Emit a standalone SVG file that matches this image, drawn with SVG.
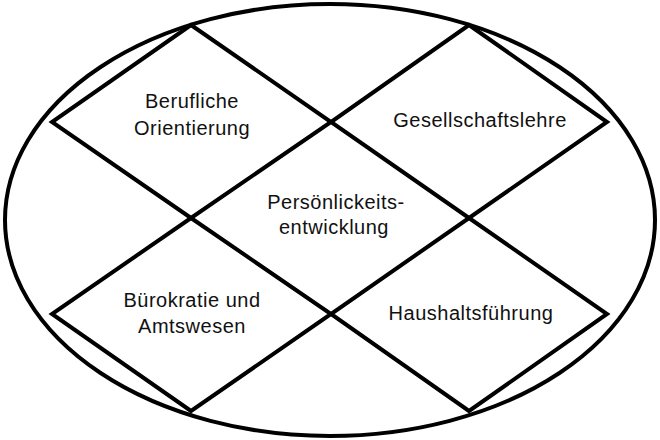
<svg xmlns="http://www.w3.org/2000/svg" width="660" height="440" viewBox="0 0 660 440">
<style>
.shape{fill:none;stroke:#000;stroke-width:4;stroke-linejoin:miter}
.lbl{font-family:"Liberation Sans",Arial,sans-serif;font-size:20px;fill:#111;text-anchor:middle;letter-spacing:0.5px}
</style>
<rect width="660" height="440" fill="#fff"/>
<g id="ellipse"><ellipse class="shape" cx="330" cy="220" rx="325" ry="216"/></g>
<g id="connectors"></g>
<g id="node-berufliche">
<polygon class="shape" points="191,25 331,122 191,218 52,122"/>
<text class="lbl" x="192" y="108">Berufliche</text>
<text class="lbl" x="192" y="135">Orientierung</text>
</g>
<g id="node-gesellschaftslehre">
<polygon class="shape" points="469,25 607,122 469,218 331,122"/>
<text class="lbl" x="480" y="127">Gesellschaftslehre</text>
</g>
<g id="node-buerokratie">
<polygon class="shape" points="191,218 331,314 191,411 52,314"/>
<text class="lbl" x="192" y="307">Bürokratie und</text>
<text class="lbl" x="192" y="333">Amtswesen</text>
</g>
<g id="node-haushaltsfuehrung">
<polygon class="shape" points="469,218 607,314 469,411 331,314"/>
<text class="lbl" x="471" y="320">Haushaltsführung</text>
</g>
<g id="node-persoenlichkeit">
<text class="lbl" x="336" y="209">Persönlickeits-</text>
<text class="lbl" x="334" y="234">entwicklung</text>
</g>
</svg>
